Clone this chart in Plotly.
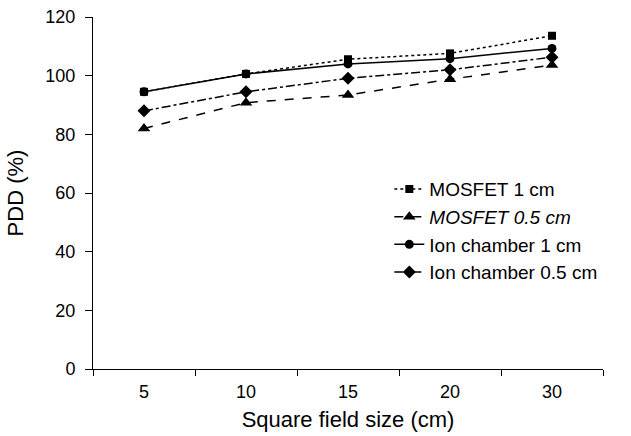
import plotly.graph_objects as go

field_sizes = ["5", "10", "15", "20", "30"]
mosfet_1cm = [94.5, 100.6, 105.6, 107.6, 113.6]
mosfet_05cm = [82.0, 90.8, 93.4, 98.8, 103.6]
ion_1cm = [94.5, 100.6, 104.0, 105.8, 109.3]
ion_05cm = [88.0, 94.5, 99.1, 102.0, 106.3]

series = [
    ("MOSFET 1 cm", mosfet_1cm, "dot", "square", 8),
    ("<i>MOSFET 0.5 cm</i>", mosfet_05cm, "dash", "triangle-up", 11),
    ("Ion chamber 1 cm", ion_1cm, "solid", "circle", 9),
    ("Ion chamber 0.5 cm", ion_05cm, "dashdot", "diamond", 10),
]

FONT = "Liberation Sans, Arial, sans-serif"
fig = go.Figure()
for rank, (name, vals, dash, sym, size) in reversed(list(enumerate(series))):
    fig.add_trace(go.Scatter(
        x=field_sizes, y=vals, name=name, mode="lines+markers",
        line=dict(color="black", width=1.5, dash=dash),
        marker=dict(symbol=sym, size=size, color="black"),
        legendrank=rank + 1,
    ))

fig.update_layout(
    width=631, height=436,
    margin=dict(l=93, r=28, t=17, b=67),
    plot_bgcolor="white", paper_bgcolor="white",
    font=dict(family=FONT, size=18, color="black"),
    showlegend=True,
    legend=dict(x=0.581, y=0.565, xanchor="left", yanchor="top",
                bgcolor="rgba(0,0,0,0)", font=dict(size=19, family=FONT),
                traceorder="normal"),
    xaxis=dict(type="category", range=[-0.5, 4.5], tickson="boundaries",
               ticks="outside", ticklen=6, tickcolor="black",
               showline=True, linecolor="black", linewidth=1,
               showgrid=False, zeroline=False, automargin=False,
               ticklabelstandoff=6,
               title=dict(text="Square field size (cm)", standoff=11)),
    yaxis=dict(range=[0, 120], tickvals=[0, 20, 40, 60, 80, 100, 120],
               ticks="outside", ticklen=7, tickcolor="black",
               showline=True, linecolor="black", linewidth=1,
               showgrid=False, zeroline=False, automargin=False,
               ticklabelstandoff=6,
               title=dict(text="PDD (%)", standoff=15)),
)

fig.write_html("out.html", config={"displayModeBar": False},
               post_script="document.body.style.margin='0';")
